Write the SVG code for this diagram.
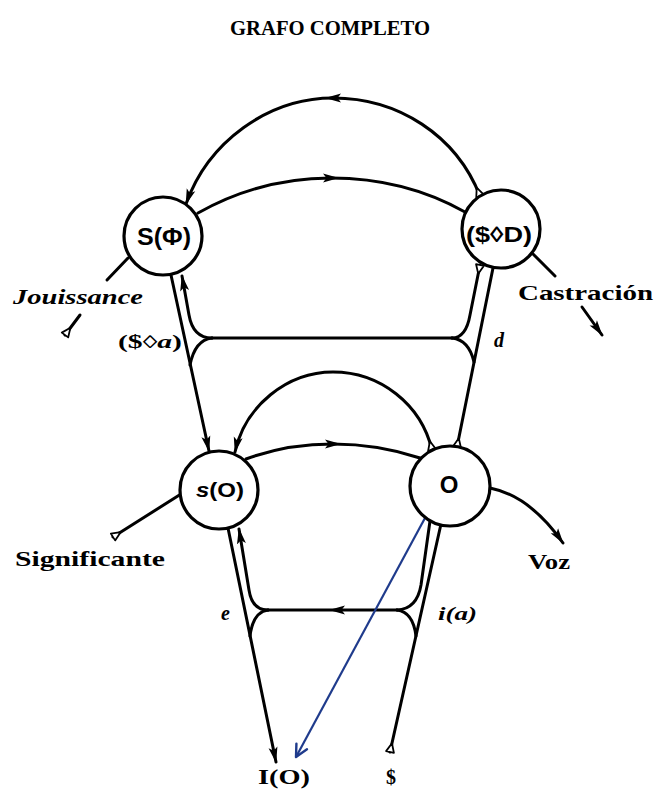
<svg xmlns="http://www.w3.org/2000/svg" width="656" height="791" viewBox="0 0 656 791">
<style>
.ln{fill:none;stroke:#000;stroke-width:3;stroke-linecap:round;stroke-linejoin:round}
.nd{fill:#fff;stroke:#000;stroke-width:3.2}
.nl{font-family:"Liberation Sans",Arial,sans-serif;font-weight:bold;fill:#000;text-anchor:middle}
.lb{font-family:"Liberation Serif","Times New Roman",serif;font-weight:bold;fill:#000}
.it{font-family:"Liberation Serif","Times New Roman",serif;font-weight:bold;font-style:italic;fill:#000}
</style>
<defs>
<marker id="ah" markerUnits="userSpaceOnUse" markerWidth="17" markerHeight="11" viewBox="0 0 17 11" refX="15" refY="5.5" orient="auto">
<path d="M0,1 L16,5.5 L0,10 L3.5,5.5 Z" fill="#000"/>
</marker>
<marker id="am" markerUnits="userSpaceOnUse" markerWidth="17" markerHeight="11" viewBox="0 0 17 11" refX="8" refY="5.5" orient="auto">
<path d="M0,1 L16,5.5 L0,10 L3.5,5.5 Z" fill="#000"/>
</marker>
<marker id="tl" markerUnits="userSpaceOnUse" markerWidth="14" markerHeight="14" viewBox="-3 -7 14 14" refX="0" refY="0" orient="auto">
<path d="M0,-4 L0,4 L9,0 Z" fill="#fff" stroke="#000" stroke-width="1.8" stroke-linejoin="round"/>
</marker>
<marker id="bv" markerUnits="userSpaceOnUse" markerWidth="18" markerHeight="18" viewBox="0 0 18 18" refX="15" refY="9" orient="auto">
<path d="M3,3 L15,9 L3,15" fill="none" stroke="#1f3b8c" stroke-width="2.4" stroke-linecap="round" stroke-linejoin="round"/>
</marker>
</defs>
<rect width="656" height="791" fill="#fff"/>
<text class="lb" x="330" y="35" font-size="20" text-anchor="middle" textLength="200" lengthAdjust="spacingAndGlyphs">GRAFO COMPLETO</text>
<g id="connectors">
<path class="ln" d="M480,196 C456,135 398,98 333,98 C268,98 208,142 186,204" marker-start="url(#tl)" marker-mid="url(#am)" marker-end="url(#ah)"/>
<path class="ln" d="M198,213 C239,190 284,178 331,178 C378,178 424,189 465,212" marker-mid="url(#am)"/>
<path class="ln" d="M171,275 L209,451" marker-end="url(#ah)"/>
<path class="ln" d="M212,338 Q193,338 189,315 L182,276" marker-end="url(#ah)"/>
<path class="ln" d="M212,338 Q195,340 190,365"/>
<path class="ln" d="M212,338 L452,338"/>
<path class="ln" d="M480,265 L470,315 Q466,338 452,338" marker-start="url(#tl)"/>
<path class="ln" d="M452,338 Q469,340 474,362"/>
<path class="ln" d="M457,447 L493,268" marker-start="url(#tl)"/>
<path class="ln" d="M432,450 C421,404 380,372 333,372 C287,372 245,406 235,452" marker-start="url(#tl)" marker-end="url(#ah)"/>
<path class="ln" d="M246,459 C273,449 303,444 333,444 C363,444 393,449 420,458" marker-mid="url(#am)"/>
<path class="ln" d="M228,528 L276,762" marker-end="url(#ah)"/>
<path class="ln" d="M268,610 Q252,610 249,590 L239,529" marker-end="url(#ah)"/>
<path class="ln" d="M268,610 Q253,612 250,636"/>
<path class="ln" d="M397,610 L337,610 L268,610" marker-mid="url(#am)"/>
<path class="ln" d="M430,521 L421,585 Q417,609 397,610"/>
<path class="ln" d="M397,610 Q413,612 416,636"/>
<path class="ln" d="M390,752 L441,524" marker-start="url(#tl)"/>
<path class="ln" d="M113,537 L181,494" marker-start="url(#tl)"/>
<path class="ln" d="M490,488 Q530,496 563,543" marker-end="url(#ah)"/>
<path class="ln" d="M128,258 L107,280"/>
<path class="ln" d="M65,335 L80,315" marker-start="url(#tl)"/>
<path class="ln" d="M533,254 L555,276"/>
<path class="ln" d="M582,307 L602,335" marker-end="url(#ah)"/>
<path d="M425,518 L296,757" fill="none" stroke="#1f3b8c" stroke-width="2.2" marker-end="url(#bv)"/>
</g>
<g id="node-SPhi">
<circle class="nd" cx="163" cy="236" r="39"/>
<text class="nl" x="164" y="245" font-size="23" textLength="54" lengthAdjust="spacingAndGlyphs">S(Φ)</text>
</g>
<g id="node-SD">
<circle class="nd" cx="501" cy="229" r="39"/>
<text class="nl" x="499" y="242" font-size="22" textLength="66" lengthAdjust="spacingAndGlyphs">($◊D)</text>
</g>
<g id="node-sO">
<circle class="nd" cx="219" cy="490" r="39"/>
<text class="nl" x="220" y="497" font-size="20" textLength="48" lengthAdjust="spacingAndGlyphs"><tspan font-style="italic">s</tspan>(O)</text>
</g>
<g id="node-O">
<circle class="nd" cx="450" cy="486" r="40"/>
<text class="nl" x="449" y="493" font-size="24">O</text>
</g>
<g id="labels">
<text class="it" x="13" y="304" font-size="20" textLength="130" lengthAdjust="spacingAndGlyphs">Jouissance</text>
<text class="lb" x="118" y="348" font-size="18" textLength="64" lengthAdjust="spacingAndGlyphs">($◊<tspan font-style="italic">a</tspan>)</text>
<text class="lb" x="518" y="300" font-size="21" textLength="135" lengthAdjust="spacingAndGlyphs">Castración</text>
<text class="it" x="494" y="347" font-size="20">d</text>
<text class="lb" x="15" y="566" font-size="21" textLength="150" lengthAdjust="spacingAndGlyphs">Significante</text>
<text class="lb" x="528" y="569" font-size="21" textLength="42" lengthAdjust="spacingAndGlyphs">Voz</text>
<text class="it" x="221" y="620" font-size="20">e</text>
<text class="it" x="438" y="620" font-size="19" textLength="39" lengthAdjust="spacingAndGlyphs">i(a)</text>
<text class="lb" x="258" y="784" font-size="20" textLength="52" lengthAdjust="spacingAndGlyphs">I(O)</text>
<text class="lb" x="386" y="784" font-size="20">$</text>
</g>
</svg>
